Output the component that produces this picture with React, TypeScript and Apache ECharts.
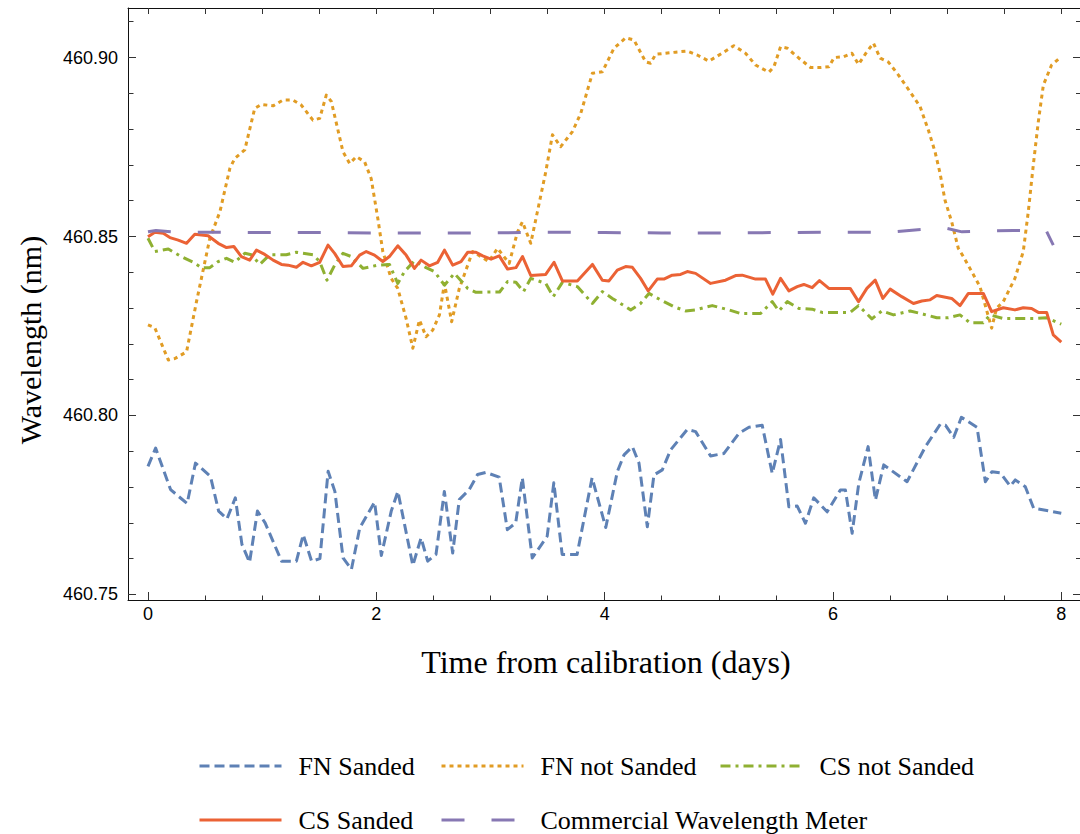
import { useEffect, useRef } from "react";
import * as echarts from "echarts";

// ---- data (days, wavelength nm) ----
const fnSandedT = [0, 0.067, 0.198, 0.343, 0.416, 0.547, 0.619, 0.692, 0.765, 0.823, 0.89, 0.959, 1.026, 1.17, 1.3, 1.36, 1.433, 1.506, 1.578, 1.637, 1.709, 1.782, 1.855, 1.985, 2.044, 2.131, 2.189, 2.32, 2.392, 2.45, 2.523, 2.596, 2.669, 2.727, 2.814, 2.887, 2.959, 3.076, 3.148, 3.221, 3.279, 3.366, 3.497, 3.555, 3.628, 3.759, 3.89, 4.01, 4.111, 4.17, 4.243, 4.301, 4.374, 4.432, 4.505, 4.578, 4.724, 4.797, 4.928, 5.045, 5.176, 5.264, 5.38, 5.468, 5.541, 5.614, 5.687, 5.759, 5.832, 5.949, 6.065, 6.109, 6.168, 6.226, 6.308, 6.372, 6.445, 6.649, 6.81, 6.941, 6.985, 7.058, 7.125, 7.262, 7.335, 7.393, 7.466, 7.553, 7.597, 7.685, 7.758, 8.0];
const fnSandedW = [460.7858, 460.7909, 460.7793, 460.7754, 460.7867, 460.783, 460.7733, 460.7711, 460.777, 460.764, 460.759, 460.7733, 460.77, 460.7593, 460.7593, 460.7667, 460.7593, 460.76, 460.7844, 460.7788, 460.7602, 460.757, 460.7686, 460.7758, 460.7609, 460.7733, 460.7788, 460.7581, 460.7658, 460.7593, 460.7612, 460.7788, 460.7616, 460.7765, 460.7793, 460.7835, 460.7841, 460.7828, 460.7681, 460.77, 460.7826, 460.7602, 460.7663, 460.7812, 460.7612, 460.7612, 460.7826, 460.7687, 460.7843, 460.789, 460.7913, 460.7867, 460.7689, 460.7834, 460.7848, 460.7904, 460.7961, 460.7955, 460.7887, 460.7894, 460.795, 460.7967, 460.7973, 460.7838, 460.7933, 460.7745, 460.7747, 460.7699, 460.777, 460.7731, 460.7792, 460.7792, 460.7671, 460.781, 460.7913, 460.7764, 460.7862, 460.7815, 460.7913, 460.7976, 460.7973, 460.7939, 460.7995, 460.7967, 460.7815, 460.7843, 460.784, 460.7803, 460.782, 460.7801, 460.7741, 460.7727];

const fnNotSandedT = [0, 0.06, 0.178, 0.236, 0.338, 0.425, 0.542, 0.63, 0.717, 0.76, 0.848, 0.935, 0.993, 1.096, 1.183, 1.27, 1.343, 1.445, 1.504, 1.562, 1.606, 1.708, 1.767, 1.825, 1.897, 1.955, 2.013, 2.057, 2.13, 2.188, 2.261, 2.32, 2.378, 2.436, 2.495, 2.553, 2.597, 2.66, 2.727, 2.844, 2.985, 3.062, 3.164, 3.237, 3.28, 3.353, 3.411, 3.484, 3.543, 3.615, 3.718, 3.791, 3.893, 3.98, 4.082, 4.185, 4.257, 4.359, 4.403, 4.447, 4.622, 4.724, 4.811, 4.913, 5.03, 5.132, 5.234, 5.322, 5.439, 5.483, 5.541, 5.6, 5.702, 5.804, 5.891, 5.964, 6.01, 6.093, 6.166, 6.224, 6.297, 6.355, 6.414, 6.486, 6.574, 6.676, 6.763, 6.836, 6.894, 6.938, 6.981, 7.04, 7.098, 7.142, 7.2, 7.288, 7.39, 7.434, 7.492, 7.594, 7.667, 7.711, 7.755, 7.799, 7.843, 7.915, 8.0];
const fnNotSandedW = [460.8253, 460.8245, 460.8155, 460.8159, 460.8178, 460.8318, 460.8495, 460.8569, 460.869, 460.8718, 460.8742, 460.8858, 460.8869, 460.8865, 460.8881, 460.8881, 460.8867, 460.8825, 460.883, 460.8895, 460.8877, 460.8737, 460.8704, 460.8723, 460.8709, 460.8662, 460.8551, 460.8458, 460.8383, 460.8355, 460.8271, 460.8188, 460.8267, 460.822, 460.8239, 460.8281, 460.8369, 460.8262, 460.8355, 460.8458, 460.843, 460.8467, 460.8425, 460.8513, 460.8541, 460.8481, 460.8569, 460.868, 460.8784, 460.8751, 460.8793, 460.8844, 460.8956, 460.896, 460.9026, 460.9055, 460.9049, 460.8988, 460.8984, 460.9009, 460.9015, 460.9018, 460.9007, 460.899, 460.9012, 460.9033, 460.9012, 460.8979, 460.8959, 460.8974, 460.903, 460.9026, 460.8998, 460.8972, 460.8972, 460.8974, 460.9, 460.9002, 460.9012, 460.8981, 460.9016, 460.904, 460.8998, 460.8987, 460.8951, 460.8904, 460.8863, 460.8797, 460.8737, 460.8677, 460.8602, 460.8541, 460.8467, 460.8444, 460.8411, 460.836, 460.8244, 460.83, 460.8318, 460.8383, 460.8458, 460.8569, 460.87, 460.8821, 460.8923, 460.8979, 460.9002];

const csNotSandedT = [0, 0.06, 0.178, 0.28, 0.396, 0.469, 0.542, 0.615, 0.688, 0.76, 0.848, 0.906, 0.979, 1.066, 1.212, 1.3, 1.445, 1.504, 1.568, 1.635, 1.708, 1.781, 1.883, 2.013, 2.115, 2.188, 2.247, 2.334, 2.436, 2.509, 2.597, 2.684, 2.801, 2.873, 3.005, 3.08, 3.15, 3.223, 3.29, 3.353, 3.484, 3.55, 3.63, 3.761, 3.893, 3.98, 4.068, 4.228, 4.315, 4.388, 4.49, 4.607, 4.709, 4.797, 4.943, 5.088, 5.19, 5.366, 5.468, 5.526, 5.6, 5.702, 5.818, 5.905, 6.037, 6.151, 6.224, 6.341, 6.428, 6.53, 6.676, 6.792, 6.909, 7.011, 7.113, 7.2, 7.317, 7.376, 7.492, 7.594, 7.755, 7.872, 8.0];
const csNotSandedW = [460.8495, 460.8458, 460.8465, 460.8446, 460.8428, 460.8413, 460.8413, 460.843, 460.8439, 460.8428, 460.8453, 460.8449, 460.8422, 460.8449, 460.8449, 460.8456, 460.8449, 460.843, 460.8378, 460.842, 460.8453, 460.8444, 460.8411, 460.842, 460.8422, 460.8369, 460.8402, 460.8432, 460.8413, 460.8402, 460.8364, 460.8397, 460.8355, 460.8344, 460.8345, 460.8345, 460.8374, 460.8372, 460.8346, 460.8383, 460.8369, 460.8332, 460.8372, 460.836, 460.8313, 460.8346, 460.8327, 460.8295, 460.8313, 460.8341, 460.8323, 460.8304, 460.8292, 460.8295, 460.8307, 460.8295, 460.8285, 460.8285, 460.8318, 460.8292, 460.8318, 460.8299, 460.8297, 460.8288, 460.8288, 460.8288, 460.8307, 460.827, 460.8292, 460.8281, 460.8292, 460.8283, 460.8273, 460.8273, 460.8281, 460.8259, 460.8259, 460.8281, 460.8271, 460.8271, 460.8271, 460.8273, 460.8255];

const csSandedT = [0, 0.06, 0.134, 0.192, 0.265, 0.338, 0.41, 0.527, 0.615, 0.688, 0.752, 0.818, 0.891, 0.95, 1.023, 1.096, 1.169, 1.227, 1.3, 1.358, 1.431, 1.504, 1.577, 1.635, 1.708, 1.781, 1.854, 1.912, 1.984, 2.057, 2.115, 2.188, 2.261, 2.334, 2.392, 2.465, 2.538, 2.597, 2.669, 2.742, 2.801, 2.873, 2.932, 3.005, 3.077, 3.15, 3.223, 3.281, 3.353, 3.484, 3.557, 3.63, 3.761, 3.893, 3.98, 4.038, 4.111, 4.184, 4.243, 4.315, 4.382, 4.461, 4.519, 4.592, 4.665, 4.724, 4.797, 4.928, 5.059, 5.147, 5.205, 5.322, 5.409, 5.473, 5.541, 5.614, 5.687, 5.745, 5.818, 5.882, 5.964, 6.05, 6.151, 6.224, 6.297, 6.37, 6.437, 6.501, 6.603, 6.705, 6.778, 6.851, 6.909, 7.04, 7.113, 7.186, 7.317, 7.39, 7.492, 7.594, 7.667, 7.74, 7.799, 7.872, 7.93, 8.0];
const csSandedW = [460.8499, 460.8512, 460.8509, 460.8497, 460.849, 460.8481, 460.8506, 460.8502, 460.8481, 460.8469, 460.8472, 460.8444, 460.8434, 460.8462, 460.845, 460.8434, 460.8422, 460.842, 460.8414, 460.8428, 460.8418, 460.8428, 460.8476, 460.8453, 460.8416, 460.8418, 460.8448, 460.8458, 460.8448, 460.843, 460.8444, 460.8474, 460.8448, 460.8411, 460.8434, 460.8418, 460.8428, 460.8462, 460.842, 460.843, 460.8456, 460.8456, 460.8446, 460.8437, 460.8446, 460.8409, 460.8413, 460.8444, 460.8391, 460.8394, 460.8428, 460.8376, 460.8376, 460.8422, 460.8378, 460.8376, 460.8406, 460.8416, 460.8414, 460.8383, 460.8348, 460.8381, 460.8381, 460.8392, 460.8394, 460.8402, 460.8397, 460.8369, 460.8378, 460.8391, 460.8392, 460.8381, 460.8381, 460.8339, 460.8383, 460.8348, 460.836, 460.8366, 460.8357, 460.8377, 460.8355, 460.8355, 460.8355, 460.8318, 460.8355, 460.8378, 460.8327, 460.8353, 460.8332, 460.8313, 460.832, 460.8323, 460.8335, 460.8327, 460.8307, 460.8341, 460.8341, 460.829, 460.8301, 460.8295, 460.8301, 460.8299, 460.8288, 460.8288, 460.8225, 460.8205];

const meterT = [0, 0.07, 0.2, 0.5, 1.0, 1.5, 2.0, 2.5, 3.0, 3.5, 4.0, 4.5, 5.0, 5.5, 6.0, 6.5, 6.97, 7.13, 7.58, 7.87, 7.93];
const meterW = [460.8513, 460.8517, 460.8513, 460.8512, 460.8511, 460.8511, 460.851, 460.851, 460.851, 460.8512, 460.8511, 460.851, 460.851, 460.8511, 460.8512, 460.8512, 460.8525, 460.8513, 460.8517, 460.8515, 460.8476];

// ---- ticks ----
const xMajorTicks = [0, 2, 4, 6, 8];
const xMinorTicks = [0.5, 1, 1.5, 2.5, 3, 3.5, 4.5, 5, 5.5, 6.5, 7, 7.5];
const xAllTicks = [0, 0.5, 1, 1.5, 2, 2.5, 3, 3.5, 4, 4.5, 5, 5.5, 6, 6.5, 7, 7.5, 8];
const yMajorTicks = [460.75, 460.8, 460.85, 460.9];
const yMinorTicks = [460.76, 460.77, 460.78, 460.79, 460.81, 460.82, 460.83, 460.84, 460.86, 460.87, 460.88, 460.89, 460.91];

const seriesNames = ["FN Sanded", "FN not Sanded", "CS not Sanded", "CS Sanded", "Commercial Wavelength Meter"];
const seriesColors = ["#5E81B5", "#E19C24", "#8FB032", "#EB6235", "#8778B3"];

const X_MIN = -0.175;
const X_MAX = 8.164;
const Y_MIN = 460.74846;
const Y_MAX = 460.91383;

const pairs = (t: number[], w: number[]) => t.map((x, i) => [x, w[i]]);

export default function App() {
  const ref = useRef<HTMLDivElement>(null);
  useEffect(() => {
    document.body.style.margin = "0";
    if (!ref.current) return;
    const chart = echarts.init(ref.current, null, { renderer: "svg" });
    const tickColor = "#333";
    const axisColor = "#111";
    const baseX = {
      type: "value",
      min: X_MIN,
      max: X_MAX,
      splitLine: { show: false },
      axisLabel: { show: false },
    };
    const baseY = {
      type: "value",
      min: Y_MIN,
      max: Y_MAX,
      splitLine: { show: false },
      axisLabel: { show: false },
    };
    const dashes: any[] = [[10, 5], [4, 4], [10, 5, 3, 5], "solid", [23, 27]];
    const dataSets = [
      pairs(fnSandedT, fnSandedW),
      pairs(fnNotSandedT, fnNotSandedW),
      pairs(csNotSandedT, csNotSandedW),
      pairs(csSandedT, csSandedW),
      pairs(meterT, meterW),
    ];
    const legendPos = [
      [198, 753],
      [440, 753],
      [719, 753],
      [198, 807],
      [440, 807],
    ];
    const option: any = {
      animation: false,
      grid: { left: 128, top: 8, width: 954, height: 592 },
      xAxis: [
        {
          ...baseX,
          position: "bottom",
          axisLine: { show: true, onZero: false, lineStyle: { color: axisColor, width: 1 } },
          axisTick: { show: true, inside: true, length: 8, customValues: xMajorTicks, lineStyle: { color: tickColor } },
          axisLabel: {
            show: true,
            customValues: xMajorTicks,
            fontSize: 18,
            fontFamily: "Liberation Sans",
            color: "#000",
            margin: 5,
          },
        },
        {
          ...baseX,
          position: "bottom",
          axisLine: { show: false, onZero: false },
          axisTick: { show: true, inside: true, length: 4.5, customValues: xMinorTicks, lineStyle: { color: tickColor } },
        },
        {
          ...baseX,
          position: "top",
          axisLine: { show: true, onZero: false, lineStyle: { color: axisColor, width: 1 } },
          axisTick: { show: true, inside: true, length: 6, customValues: xAllTicks, lineStyle: { color: tickColor } },
        },
      ],
      yAxis: [
        {
          ...baseY,
          position: "left",
          axisLine: { show: true, onZero: false, lineStyle: { color: axisColor, width: 1 } },
          axisTick: { show: true, inside: true, length: 8, customValues: yMajorTicks, lineStyle: { color: tickColor } },
          axisLabel: {
            show: true,
            customValues: yMajorTicks,
            formatter: (v: number) => v.toFixed(2),
            fontSize: 18,
            fontFamily: "Liberation Sans",
            color: "#000",
            margin: 10,
          },
        },
        {
          ...baseY,
          position: "left",
          axisLine: { show: false, onZero: false },
          axisTick: { show: true, inside: true, length: 5.5, customValues: yMinorTicks, lineStyle: { color: tickColor } },
        },
        {
          ...baseY,
          position: "right",
          axisLine: { show: true, onZero: false, lineStyle: { color: axisColor, width: 1 } },
          axisTick: { show: true, inside: true, length: 7, customValues: yMajorTicks, lineStyle: { color: tickColor } },
        },
        {
          ...baseY,
          position: "right",
          axisLine: { show: false, onZero: false },
          axisTick: { show: true, inside: true, length: 4, customValues: yMinorTicks, lineStyle: { color: tickColor } },
        },
      ],
      legend: seriesNames.map((n, i) => ({
        data: [n],
        left: legendPos[i][0],
        top: legendPos[i][1],
        padding: 0,
        itemWidth: 82,
        itemHeight: 26,
        selectedMode: false,
        lineStyle: { width: 3 },
        itemStyle: { color: "rgba(0,0,0,0)", borderWidth: 0, opacity: 0 },
        textStyle: {
          fontFamily: "Liberation Serif",
          fontSize: 26,
          color: "#000",
          padding: [0, 0, 0, 12],
        },
      })),
      series: seriesNames.map((n, i) => ({
        name: n,
        type: "line",
        xAxisIndex: 0,
        yAxisIndex: 0,
        showSymbol: false,
        symbol: "none",
        data: dataSets[i],
        color: seriesColors[i],
        lineStyle: { color: seriesColors[i], width: 3, type: dashes[i], cap: "butt", join: "round" },
        z: 2 + i,
      })),
      graphic: [
        {
          type: "text",
          x: 606,
          y: 662,
          style: {
            text: "Time from calibration (days)",
            fill: "#000",
            fontSize: 32,
            fontFamily: "Liberation Serif",
            align: "center",
            verticalAlign: "middle",
          },
        },
        {
          type: "text",
          x: 30,
          y: 340,
          rotation: Math.PI / 2,
          style: {
            text: "Wavelength (nm)",
            fill: "#000",
            fontSize: 30,
            fontFamily: "Liberation Serif",
            align: "center",
            verticalAlign: "middle",
          },
        },
      ],
    };
    chart.setOption(option);
    return () => chart.dispose();
  }, []);
  return <div ref={ref} style={{ width: 1080, height: 834 }} />;
}
